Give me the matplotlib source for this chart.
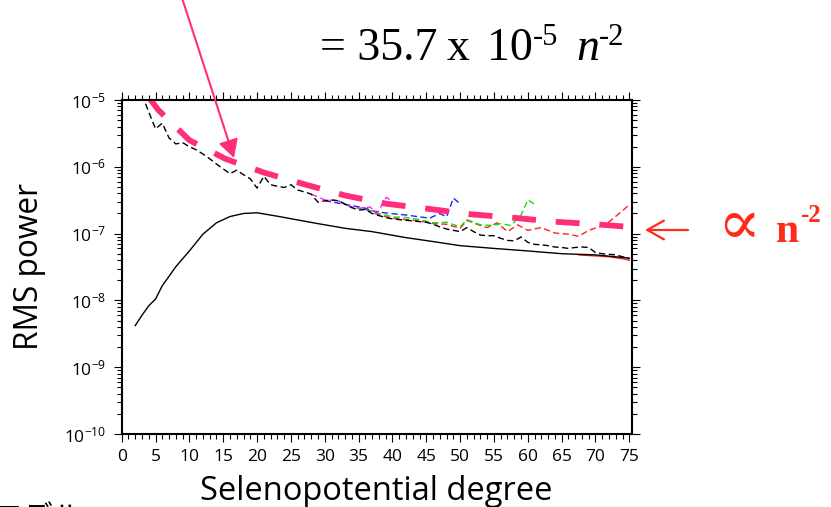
import matplotlib
matplotlib.use("Agg")
import matplotlib.pyplot as plt
from matplotlib.ticker import MultipleLocator, LogLocator, NullFormatter

# ---- data ----
solid_n = [2, 3, 4, 5, 6, 7, 8, 9, 10, 12, 14, 16, 18, 20, 23, 26, 29, 33, 37,
           42, 46, 50, 55, 60, 65, 70, 75]
solid_v = [4.2e-9, 6.0e-9, 8.3e-9, 1.05e-8, 1.66e-8, 2.3e-8, 3.2e-8, 4.2e-8,
           5.5e-8, 9.8e-8, 1.45e-7, 1.8e-7, 2.0e-7, 2.05e-7, 1.82e-7, 1.6e-7,
           1.41e-7, 1.2e-7, 1.07e-7, 8.7e-8, 7.6e-8, 6.6e-8, 6.0e-8, 5.5e-8,
           5.0e-8, 4.8e-8, 4.3e-8]

dash_n = list(range(3, 76))
dash_v = [1.2e-5, 6.6e-6, 3.7e-6, 4.5e-6, 2.7e-6, 2.2e-6, 2.3e-6, 2.0e-6,
          1.8e-6, 1.55e-6, 1.32e-6, 1.1e-6, 9.3e-7, 7.9e-7, 8.9e-7, 7.6e-7,
          6.6e-7, 4.8e-7, 7.2e-7, 5.4e-7, 5.1e-7, 4.9e-7, 5.4e-7, 4.5e-7,
          4.2e-7, 3.9e-7, 2.95e-7, 3.1e-7, 3.2e-7, 3.1e-7, 2.75e-7, 2.45e-7,
          2.25e-7, 2.3e-7, 2.0e-7, 1.86e-7, 1.74e-7, 1.66e-7, 1.62e-7, 1.58e-7,
          1.55e-7, 1.51e-7, 1.48e-7, 1.38e-7, 1.26e-7, 1.17e-7, 1.12e-7,
          1.07e-7, 1.23e-7, 1.07e-7, 9.5e-8, 9.3e-8, 9.3e-8, 8.5e-8, 7.9e-8,
          7.8e-8, 8.9e-8, 7.4e-8, 6.9e-8, 6.8e-8, 6.6e-8, 6.3e-8, 6.2e-8,
          6.0e-8, 6.2e-8, 6.3e-8, 6.2e-8, 5.2e-8, 5.0e-8, 4.9e-8, 4.8e-8,
          4.5e-8, 4.2e-8]

mag_n = [28, 30, 32, 34, 35.2, 36.7, 37.7, 39.1, 40]
mag_v = [3.9e-7, 3.2e-7, 3.1e-7, 2.5e-7, 2.4e-7, 2.5e-7, 2.0e-7, 3.5e-7, 3.0e-7]

blue_n = [30, 33, 36, 37, 38, 39.6, 42, 44, 45.5, 47, 48, 49, 50]
blue_v = [3.1e-7, 2.75e-7, 2.4e-7, 2.2e-7, 2.1e-7, 2.0e-7, 1.9e-7, 1.78e-7,
          1.7e-7, 2.0e-7, 1.78e-7, 3.4e-7, 2.8e-7]

green_n = [32, 34, 36, 38, 40, 42, 44, 46, 48, 50, 51, 53, 55, 56, 57.5, 59, 60, 61]
green_v = [3.1e-7, 2.45e-7, 2.35e-7, 2.0e-7, 1.78e-7, 1.74e-7, 1.62e-7,
           1.45e-7, 1.48e-7, 1.26e-7, 1.62e-7, 1.35e-7, 1.32e-7, 1.41e-7,
           1.32e-7, 1.9e-7, 3.2e-7, 2.75e-7]

red_n = [36, 38, 40, 42, 44, 46, 48, 50, 51, 53, 54, 55.5, 57, 58.5, 60, 62,
         64, 66, 67.5, 69, 70.5, 72, 73.5, 75]
red_v = [2.3e-7, 1.9e-7, 1.7e-7, 1.62e-7, 1.55e-7, 1.41e-7, 1.38e-7, 1.2e-7,
         1.58e-7, 1.32e-7, 1.23e-7, 1.45e-7, 1.07e-7, 1.35e-7, 1.12e-7,
         1.23e-7, 1.02e-7, 9.8e-8, 9.1e-8, 1.12e-7, 1.26e-7, 1.5e-7, 2.0e-7,
         2.7e-7]

red_solid_n = [67.5, 72, 74, 75]
red_solid_v = [4.8e-8, 4.5e-8, 4.2e-8, 4.0e-8]

fit_n = [4.0, 5.4, 10, 15.3, 21, 27.2, 33.1, 39.1, 45.3, 51.5, 57.6, 63.8, 70, 75]
fit_v = [1.1e-5, 7.1e-6, 2.5e-6, 1.32e-6, 8.2e-7, 5.4e-7, 3.7e-7, 2.8e-7,
         2.35e-7, 1.95e-7, 1.74e-7, 1.51e-7, 1.38e-7, 1.26e-7]

x_ticks = list(range(0, 80, 5))
y_ticks = [1e-10, 1e-9, 1e-8, 1e-7, 1e-6, 1e-5]
y_labels = [r"$10^{-10}$", r"$10^{-9}$", r"$10^{-8}$", r"$10^{-7}$",
            r"$10^{-6}$", r"$10^{-5}$"]

PINK = "#FF2D7A"
RED = "#FF2A1A"
W, H = 831, 507

plt.rcParams["font.family"] = ["Open Sans", "DejaVu Sans"]
plt.rcParams["mathtext.fontset"] = "custom"
plt.rcParams["mathtext.rm"] = "Open Sans"
plt.rcParams["mathtext.it"] = "Open Sans:italic"


def px(x, y):
    return (x / W, 1 - y / H)


fig = plt.figure(figsize=(W / 100, H / 100), dpi=100)
ax = fig.add_axes([121.7 / W, 1 - 434 / H, 510 / W, 334 / H])

dash_thin = (4.5, 2.5)
ax.plot(red_n, red_v, color="#FF2020", lw=1.0, dashes=dash_thin)
ax.plot(green_n, green_v, color="#10E010", lw=1.0, dashes=dash_thin)
ax.plot(blue_n, blue_v, color="#2020FF", lw=1.0, dashes=dash_thin)
ax.plot(mag_n, mag_v, color="#FF20FF", lw=1.0, dashes=dash_thin)
ax.plot(dash_n, dash_v, color="black", lw=1.0, dashes=dash_thin)
ax.plot(red_solid_n, red_solid_v, color="#FF2020", lw=1.0)
ax.plot(solid_n, solid_v, color="black", lw=1.0)
ax.plot(fit_n, fit_v, color=PINK, lw=4.2, dashes=(4.1, 3.4),
        solid_capstyle="butt", dash_capstyle="butt")

ax.set_yscale("log")
ax.set_xlim(0, 75.35)
ax.set_ylim(1e-10, 1e-5)
ax.xaxis.set_major_locator(MultipleLocator(5))
ax.xaxis.set_minor_locator(MultipleLocator(1))
ax.set_xticks(x_ticks)
ax.set_yticks(y_ticks)
ax.set_yticklabels(y_labels)
ax.yaxis.set_minor_locator(LogLocator(base=10, subs=range(2, 10), numticks=20))
ax.yaxis.set_minor_formatter(NullFormatter())
ax.tick_params(which="both", direction="out", top=True, right=True,
               width=0.8, labelsize=12.5, color="black")
ax.tick_params(which="major", length=6, pad=5)
ax.tick_params(which="minor", length=3.5)
for s in ax.spines.values():
    s.set_linewidth(1.5)

ax.set_xlabel("Selenopotential degree", fontsize=23.5, labelpad=7)
ax.set_ylabel("RMS power", fontsize=22.8, labelpad=13)

# formula at top
serif = "Liberation Serif"
fig.text(*px(320, 60), "= 35.7", family=serif, fontsize=33, va="baseline")
fig.text(*px(447, 60), "x", family=serif, fontsize=33, va="baseline")
fig.text(*px(487, 60), "10", family=serif, fontsize=33, va="baseline")
fig.text(*px(533, 45), "-5", family=serif, fontsize=22, va="baseline")
fig.text(*px(576, 60), "n", family=serif, style="italic", fontsize=33,
         va="baseline")
fig.text(*px(599, 45), "-2", family=serif, fontsize=22, va="baseline")

# pink arrow pointing to the fit line
fig.add_artist(matplotlib.patches.FancyArrowPatch(
    px(182, -2), px(234, 158), transform=fig.transFigure,
    arrowstyle="-|>,head_length=0.55,head_width=0.3", mutation_scale=20,
    color=PINK, lw=1.5, shrinkA=0, shrinkB=0))

# red arrow and proportional label
fig.add_artist(matplotlib.patches.FancyArrowPatch(
    px(688, 230), px(645, 230), transform=fig.transFigure,
    arrowstyle="->,head_length=0.8,head_width=0.45", mutation_scale=15,
    color=RED, lw=1.6, shrinkA=0, shrinkB=0))
fig.text(*px(739, 226), "\u221d", family=["DejaVu Serif"],
         fontsize=46, color=RED, va="center", ha="center")
fig.text(*px(776, 242), "n", family=serif, weight="bold",
         fontsize=30, color=RED, va="baseline")
fig.text(*px(800, 222), "-2", family=serif, weight="bold",
         fontsize=18, color=RED, va="baseline")

# cut-off caption at the bottom edge
fig.text(*px(-6, 503), "モデル", family=["Noto Sans CJK JP", "DejaVu Sans"],
         fontsize=21.5, va="top", ha="left")

fig.savefig("out.png", dpi=100)
